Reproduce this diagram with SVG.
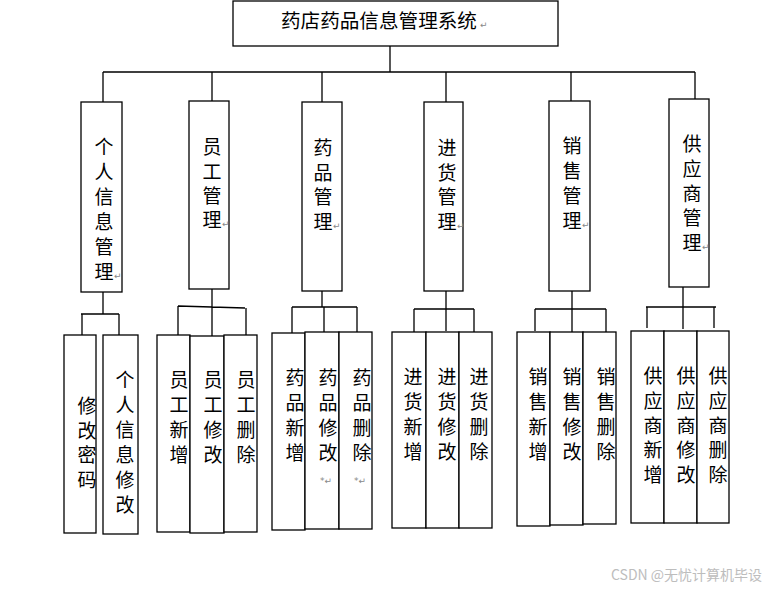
<svg xmlns="http://www.w3.org/2000/svg" width="772" height="589" viewBox="0 0 772 589">
<style>
.box{fill:#fff;stroke:#000;stroke-width:1.3}
.ln{fill:none;stroke:#000;stroke-width:1.3}
.t{font-family:"Liberation Serif","Noto Sans CJK SC",serif;font-size:19px;fill:#000;text-anchor:middle}
.tt{font-family:"Liberation Serif","Noto Sans CJK SC",serif;font-size:19.6px;fill:#000}
.rm{font-family:"DejaVu Sans",sans-serif;font-size:9px;fill:#888}
.wm{font-family:"Noto Sans CJK SC","Noto Sans",sans-serif;font-size:14px;fill:#bdbdbd}
</style>
<rect width="772" height="589" fill="#fff"/>
<g id="connectors">
<path class="ln" d="M390 46V72M103 72H695M103 72V102M212 72V101M322 72V102M446 72V102M571 72V101M695 72V99"/>
<path class="ln" d="M103 292V314M81 314H119M82 314V335M119 314V336"/>
<path class="ln" d="M212 289V336M178 306L245 308M178 306V335M246 308V335" />
<path class="ln" d="M322 291V307M292 307H357M292 307V333M324 307V332M357 307V332"/>
<path class="ln" d="M446 291V331M414 309H474M414 309V332M474 309V332"/>
<path class="ln" d="M572 291V332M535 309H606M535 309V331M606 309V332"/>
<path class="ln" d="M683 287V329M646 307H716M647 307V328M714 307V328"/>
</g>
<g id="title"><rect class="box" x="233" y="1" width="325" height="45"/><text class="tt" x="281" y="28">药店药品信息管理系统</text><text class="rm" x="480" y="28">↵</text></g>
<g id="n1"><rect class="box" x="81" y="102" width="41" height="190"/><text class="t"><tspan x="104" y="154">个</tspan><tspan x="104" y="179">人</tspan><tspan x="104" y="204">信</tspan><tspan x="104" y="229">息</tspan><tspan x="104" y="254">管</tspan><tspan x="104" y="279">理</tspan></text><text class="rm" x="114" y="279">↵</text></g>
<g id="n2"><rect class="box" x="189" y="101" width="40" height="188"/><text class="t"><tspan x="212" y="154">员</tspan><tspan x="212" y="179">工</tspan><tspan x="212" y="203">管</tspan><tspan x="212" y="227">理</tspan></text><text class="rm" x="222" y="227">↵</text></g>
<g id="n3"><rect class="box" x="302" y="102" width="40" height="189"/><text class="t"><tspan x="323" y="155">药</tspan><tspan x="323" y="180">品</tspan><tspan x="323" y="204">管</tspan><tspan x="323" y="229">理</tspan></text><text class="rm" x="333" y="229">↵</text></g>
<g id="n4"><rect class="box" x="424" y="102" width="39" height="189"/><text class="t"><tspan x="447" y="155">进</tspan><tspan x="447" y="180">货</tspan><tspan x="447" y="204">管</tspan><tspan x="447" y="229">理</tspan></text><text class="rm" x="457" y="229">↵</text></g>
<g id="n5"><rect class="box" x="549" y="101" width="41" height="190"/><text class="t"><tspan x="572" y="153">销</tspan><tspan x="572" y="178">售</tspan><tspan x="572" y="203">管</tspan><tspan x="572" y="228">理</tspan></text><text class="rm" x="582" y="228">↵</text></g>
<g id="n6"><rect class="box" x="669" y="99" width="40" height="188"/><text class="t"><tspan x="692" y="151">供</tspan><tspan x="692" y="176">应</tspan><tspan x="692" y="201">商</tspan><tspan x="692" y="225">管</tspan><tspan x="692" y="250">理</tspan></text><text class="rm" x="702" y="250">↵</text></g>
<g id="n1a"><rect class="box" x="64" y="335" width="32" height="198"/><text class="t"><tspan x="87" y="413">修</tspan><tspan x="87" y="438">改</tspan><tspan x="87" y="462">密</tspan><tspan x="87" y="487">码</tspan></text></g>
<g id="n1b"><rect class="box" x="103" y="335" width="35" height="199"/><text class="t"><tspan x="125" y="387">个</tspan><tspan x="125" y="412">人</tspan><tspan x="125" y="437">信</tspan><tspan x="125" y="462">息</tspan><tspan x="125" y="487">修</tspan><tspan x="125" y="512">改</tspan></text></g>
<g id="n2a"><rect class="box" x="157" y="335" width="33" height="197"/><text class="t"><tspan x="179" y="387">员</tspan><tspan x="179" y="412">工</tspan><tspan x="179" y="437">新</tspan><tspan x="179" y="462">增</tspan></text></g>
<g id="n2b"><rect class="box" x="190" y="336" width="34" height="197"/><text class="t"><tspan x="213" y="387">员</tspan><tspan x="213" y="412">工</tspan><tspan x="213" y="437">修</tspan><tspan x="213" y="462">改</tspan></text></g>
<g id="n2c"><rect class="box" x="224" y="335" width="33" height="197"/><text class="t"><tspan x="246" y="387">员</tspan><tspan x="246" y="412">工</tspan><tspan x="246" y="437">删</tspan><tspan x="246" y="462">除</tspan></text></g>
<g id="n3a"><rect class="box" x="272" y="333" width="33" height="197"/><text class="t"><tspan x="295" y="385">药</tspan><tspan x="295" y="410">品</tspan><tspan x="295" y="435">新</tspan><tspan x="295" y="460">增</tspan></text></g>
<g id="n3b"><rect class="box" x="305" y="332" width="34" height="197"/><text class="t"><tspan x="328" y="385">药</tspan><tspan x="328" y="410">品</tspan><tspan x="328" y="435">修</tspan><tspan x="328" y="460">改</tspan></text><text class="rm" x="320" y="484">*↵</text></g>
<g id="n3c"><rect class="box" x="339" y="332" width="33" height="197"/><text class="t"><tspan x="362" y="385">药</tspan><tspan x="362" y="410">品</tspan><tspan x="362" y="435">删</tspan><tspan x="362" y="460">除</tspan></text><text class="rm" x="354" y="484">*↵</text></g>
<g id="n4a"><rect class="box" x="392" y="332" width="34" height="196"/><text class="t"><tspan x="413" y="384">进</tspan><tspan x="413" y="409">货</tspan><tspan x="413" y="434">新</tspan><tspan x="413" y="459">增</tspan></text></g>
<g id="n4b"><rect class="box" x="426" y="332" width="33" height="196"/><text class="t"><tspan x="447" y="384">进</tspan><tspan x="447" y="409">货</tspan><tspan x="447" y="434">修</tspan><tspan x="447" y="459">改</tspan></text></g>
<g id="n4c"><rect class="box" x="459" y="332" width="33" height="196"/><text class="t"><tspan x="479" y="384">进</tspan><tspan x="479" y="409">货</tspan><tspan x="479" y="434">删</tspan><tspan x="479" y="459">除</tspan></text></g>
<g id="n5a"><rect class="box" x="517" y="332" width="33" height="194"/><text class="t"><tspan x="538" y="384">销</tspan><tspan x="538" y="409">售</tspan><tspan x="538" y="434">新</tspan><tspan x="538" y="459">增</tspan></text></g>
<g id="n5b"><rect class="box" x="550" y="332" width="33" height="193"/><text class="t"><tspan x="572" y="384">销</tspan><tspan x="572" y="409">售</tspan><tspan x="572" y="434">修</tspan><tspan x="572" y="459">改</tspan></text></g>
<g id="n5c"><rect class="box" x="583" y="332" width="33" height="192"/><text class="t"><tspan x="606" y="384">销</tspan><tspan x="606" y="409">售</tspan><tspan x="606" y="434">删</tspan><tspan x="606" y="459">除</tspan></text></g>
<g id="n6a"><rect class="box" x="631" y="331" width="33" height="192"/><text class="t"><tspan x="653" y="383">供</tspan><tspan x="653" y="408">应</tspan><tspan x="653" y="433">商</tspan><tspan x="653" y="457">新</tspan><tspan x="653" y="482">增</tspan></text></g>
<g id="n6b"><rect class="box" x="664" y="331" width="33" height="192"/><text class="t"><tspan x="686" y="383">供</tspan><tspan x="686" y="408">应</tspan><tspan x="686" y="433">商</tspan><tspan x="686" y="457">修</tspan><tspan x="686" y="482">改</tspan></text></g>
<g id="n6c"><rect class="box" x="697" y="331" width="32" height="192"/><text class="t"><tspan x="718" y="383">供</tspan><tspan x="718" y="408">应</tspan><tspan x="718" y="433">商</tspan><tspan x="718" y="457">删</tspan><tspan x="718" y="482">除</tspan></text></g>
<text class="wm" x="611" y="580">CSDN @无忧计算机毕设</text>
</svg>
